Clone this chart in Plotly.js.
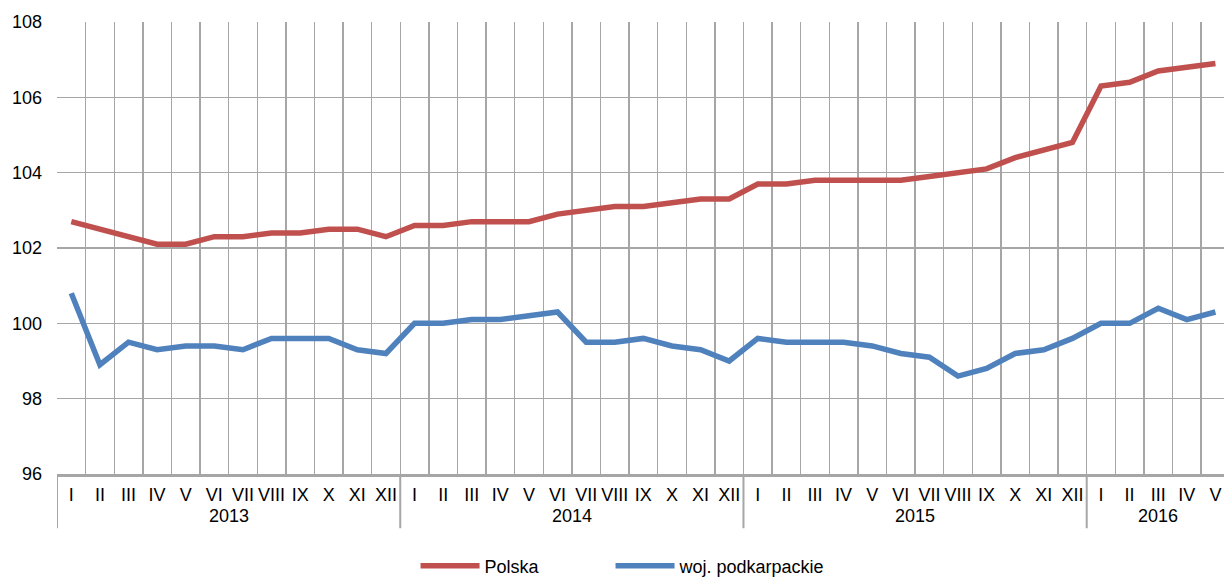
<!DOCTYPE html>
<html>
<head>
<meta charset="utf-8">
<script src="https://cdn.plot.ly/plotly-3.0.1.min.js"></script>
<style>html,body{margin:0;padding:0;background:#fff;}#chart{width:1224px;height:577px;}</style>
</head>
<body>
<div id="chart"></div>
<script>
var yearLabels = ["2013","2014","2015","2016"];
var monthsPerYear = [12,12,12,5];
var monthNames = ["I","II","III","IV","V","VI","VII","VIII","IX","X","XI","XII"];
var polska = [102.7,102.5,102.3,102.1,102.1,102.3,102.3,102.4,102.4,102.5,102.5,102.3,
              102.6,102.6,102.7,102.7,102.7,102.9,103.0,103.1,103.1,103.2,103.3,103.3,
              103.7,103.7,103.8,103.8,103.8,103.8,103.9,104.0,104.1,104.4,104.6,104.8,
              106.3,106.4,106.7,106.8,106.9];
var podkarpackie = [100.8,98.9,99.5,99.3,99.4,99.4,99.3,99.6,99.6,99.6,99.3,99.2,
                    100.0,100.0,100.1,100.1,100.2,100.3,99.5,99.5,99.6,99.4,99.3,99.0,
                    99.6,99.5,99.5,99.5,99.4,99.2,99.1,98.6,98.8,99.2,99.3,99.6,
                    100.0,100.0,100.4,100.1,100.3];
var seriesNames = ["Polska","woj. podkarpackie"];
var seriesColors = ["#C0504D","#4F81BD"];
var legendIds = ["legend","legend2"];

// category positions (index centres) and labels
var xPos = [], xText = [];
var yearStart = [], idx = 0;
yearLabels.forEach(function(y, i){
  yearStart.push(idx);
  for (var m = 0; m < monthsPerYear[i]; m++){ xPos.push(idx + 0.5); xText.push(monthNames[m]); idx++; }
});

var traces = [polska, podkarpackie].map(function(vals, i){
  return {
    type: "scatter", mode: "lines",
    x: xPos, y: vals,
    name: seriesNames[i],
    legend: legendIds[i],
    line: {color: seriesColors[i], width: 5.5},
    hoverinfo: "skip"
  };
});

var GRID = "#A6A6A6";
var annotations = yearLabels.map(function(y, i){
  return {xref: "x", yref: "paper", x: yearStart[i] + monthsPerYear[i] / 2, y: -0.093,
          yanchor: "middle", xanchor: "center", text: y, showarrow: false,
          font: {size: 18, color: "#000"}};
});
var shapes = yearStart.map(function(s){
  return {type: "line", xref: "x", yref: "paper", x0: s, x1: s, y0: 0, y1: -0.12,
          line: {color: GRID, width: 2}};
});

function legendAt(xc){
  return {orientation: "h", xref: "container", yref: "container", x: xc, xanchor: "left",
          y: 0.019, yanchor: "middle", font: {size: 18}, itemwidth: 59,
          bgcolor: "rgba(0,0,0,0)"};
}

var layout = {
  width: 1224, height: 577,
  margin: {l: 57, r: 0, t: 22, b: 103, autoexpand: false},
  paper_bgcolor: "#fff", plot_bgcolor: "#fff",
  font: {family: "Liberation Sans, Arial, sans-serif", size: 18, color: "#000"},
  showlegend: true,
  legend: legendAt(0.3395),
  legend2: legendAt(0.4988),
  annotations: annotations,
  shapes: shapes,
  xaxis: {
    range: [0, 40.8], automargin: false,
    tickmode: "array", tickvals: xPos, ticktext: xText, tickangle: 0,
    showgrid: false, ticks: "", ticklabelstandoff: 3,
    minor: {tickmode: "linear", tick0: 0, dtick: 1, showgrid: true, gridcolor: GRID, gridwidth: 1.4, ticks: ""},
    showline: true, linecolor: GRID, linewidth: 2.5,
    tickfont: {size: 18, color: "#000"},
    zeroline: false, fixedrange: true
  },
  yaxis: {
    range: [96, 108], dtick: 2, tick0: 96, automargin: false,
    showgrid: true, gridcolor: GRID, gridwidth: 1.4,
    zeroline: false, showline: false, ticks: "",
    tickfont: {size: 18, color: "#000"},
    ticklabelstandoff: 14, fixedrange: true
  }
};

Plotly.newPlot("chart", traces, layout, {displayModeBar: false, staticPlot: true});
</script>
</body>
</html>
